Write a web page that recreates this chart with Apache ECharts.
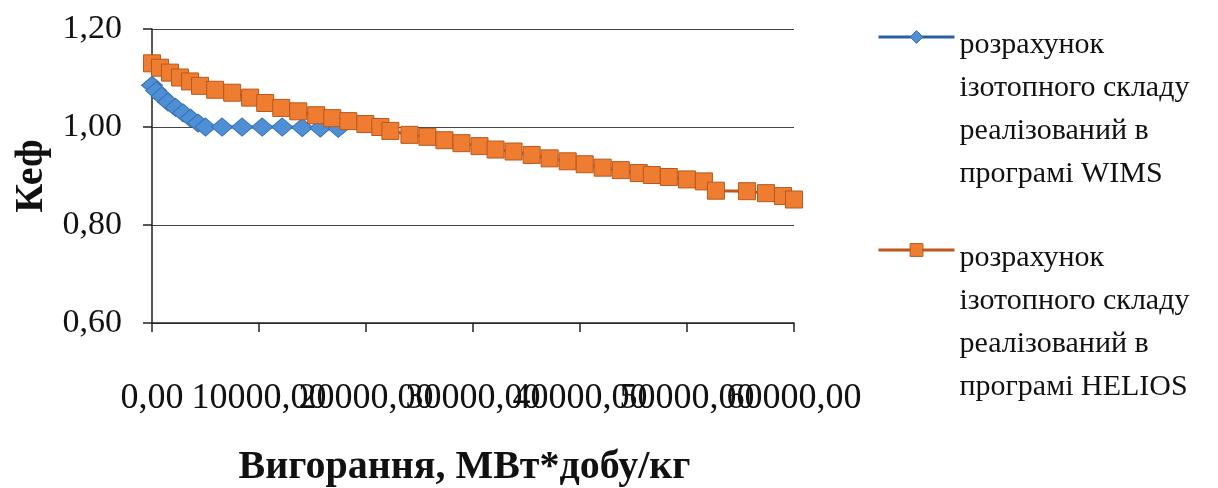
<!DOCTYPE html>
<html>
<head>
<meta charset="utf-8">
<script src="https://cdn.jsdelivr.net/npm/echarts@6/dist/echarts.min.js"></script>
<style>
html,body{margin:0;padding:0;background:#fff;}
#chart{width:1218px;height:488px;}
</style>
</head>
<body>
<div id="chart"></div>
<script>
// ---- data ----
const wimsName = 'розрахунок\nізотопного складу\nреалізований в\nпрограмі WIMS';
const heliosName = 'розрахунок\nізотопного складу\nреалізований в\nпрограмі HELIOS';

const wimsX = [0, 400, 900, 1500, 2200, 2900, 3600, 4300, 5000, 6550, 8420, 10300, 12170, 14040, 15730, 17410];
const wimsY = [1.085, 1.074, 1.063, 1.051, 1.040, 1.029, 1.018, 1.008, 1.000, 1.000, 1.000, 1.000, 1.000, 0.999, 0.998, 0.997];

const heliosX = [0, 750, 1680, 2620, 3560, 4490, 5900, 7490, 9170, 10580, 12080, 13670, 15350, 16850, 18350, 19940, 21340, 22280, 24060, 25740, 27330, 28920, 30610, 32110, 33790, 35480, 37160, 38850, 40440, 42120, 43810, 45490, 46710, 48300, 49990, 51580, 52700, 55600, 57380, 58970, 60000];
const heliosY = [1.130, 1.121, 1.111, 1.101, 1.093, 1.084, 1.076, 1.070, 1.060, 1.049, 1.039, 1.032, 1.024, 1.018, 1.012, 1.006, 1.000, 0.992, 0.984, 0.980, 0.973, 0.967, 0.961, 0.954, 0.950, 0.943, 0.936, 0.930, 0.924, 0.917, 0.912, 0.906, 0.902, 0.898, 0.893, 0.889, 0.870, 0.869, 0.865, 0.859, 0.852];

const xMin = 0, xMax = 60000, xStep = 10000;
const yMin = 0.6, yMax = 1.2, yStep = 0.2;
const xTitle = 'Вигорання, МВт*добу/кг';
const yTitle = 'Кеф';

// ---- chart ----
const font = 'Liberation Serif, Times New Roman, serif';
const fmt = v => v.toFixed(2).replace('.', ',');
const zip = (xs, ys) => xs.map((x, i) => [x, ys[i]]);
const gridBox = {left: 152, right: 424, top: 29, bottom: 165, containLabel: false, outerBoundsMode: 'none'};

const blueLine = '#2c5f9e', blueFill = '#4f8fd6', blueBorder = '#3670b2';
const orangeLine = '#c0541b', orangeFill = '#ee7d31', orangeBorder = '#b9571c';

const legendCommon = {
  orient: 'vertical',
  left: 877,
  itemWidth: 76,
  itemHeight: 16,
  padding: 0,
  selectedMode: false,
  formatter: name => '{g|}\n\n\n\n' + name,
  textStyle: {fontFamily: font, fontSize: 30, color: '#111', lineHeight: 43,
    rich: {g: {fontSize: 10, lineHeight: 16}}}
};

const xAxisCommon = {
  type: 'value',
  min: xMin, max: xMax, interval: xStep,
  axisLabel: {fontFamily: font, fontSize: 36, color: '#111', margin: 58, hideOverlap: false},
  splitLine: {show: false}
};

const chart = echarts.init(document.getElementById('chart'), null, {renderer: 'canvas'});
chart.setOption({
  animation: false,
  backgroundColor: '#ffffff',
  grid: [Object.assign({}, gridBox), Object.assign({}, gridBox)],
  legend: [
    Object.assign({}, legendCommon, {top: 37 - 158.5, data: [{name: wimsName, lineStyle: {color: blueLine, width: 3}, itemStyle: {color: blueFill, borderColor: blueBorder, borderWidth: 1}}]}),
    Object.assign({}, legendCommon, {top: 250 - 158.5, data: [{name: heliosName, lineStyle: {color: orangeLine, width: 3}, itemStyle: {color: orangeFill, borderColor: orangeBorder, borderWidth: 1}}]})
  ],
  xAxis: [
    Object.assign({}, xAxisCommon, {
      gridIndex: 0,
      name: xTitle,
      nameLocation: 'middle',
      nameGap: 125,
      nameTextStyle: {fontFamily: font, fontSize: 40, fontWeight: 'bold', color: '#111', padding: [0, 17, 0, 0]},
      axisLine: {show: true, lineStyle: {color: '#222', width: 1.5}},
      axisTick: {show: true, length: 9, lineStyle: {color: '#222', width: 1.5}},
      axisLabel: Object.assign({}, xAxisCommon.axisLabel, {formatter: v => (v % 20000 === 0 ? fmt(v) : '')})
    }),
    Object.assign({}, xAxisCommon, {
      gridIndex: 1,
      axisLine: {show: false},
      axisTick: {show: false},
      axisLabel: Object.assign({}, xAxisCommon.axisLabel, {formatter: v => (v % 20000 !== 0 ? fmt(v) : '')})
    })
  ],
  yAxis: [
    {
      gridIndex: 0,
      type: 'value',
      min: yMin, max: yMax, interval: yStep,
      name: yTitle,
      nameLocation: 'middle',
      nameGap: 100,
      nameTextStyle: {fontFamily: font, fontSize: 40, fontWeight: 'bold', color: '#111'},
      axisLine: {show: true, lineStyle: {color: '#222', width: 1.5}},
      axisTick: {show: true, length: 9, lineStyle: {color: '#222', width: 1.5}},
      axisLabel: {formatter: fmt, fontFamily: font, fontSize: 34, color: '#111', margin: 30},
      splitLine: {show: true, lineStyle: {color: '#444', width: 1.2}}
    },
    {
      gridIndex: 1,
      type: 'value',
      min: yMin, max: yMax, interval: yStep,
      show: false
    }
  ],
  series: [
    {
      name: wimsName,
      type: 'line',
      xAxisIndex: 0, yAxisIndex: 0,
      data: zip(wimsX, wimsY),
      symbol: 'diamond',
      symbolSize: [21, 18],
      lineStyle: {color: blueLine, width: 3},
      itemStyle: {color: blueFill, borderColor: blueBorder, borderWidth: 1},
      z: 2
    },
    {
      name: heliosName,
      type: 'line',
      xAxisIndex: 0, yAxisIndex: 0,
      data: zip(heliosX, heliosY),
      symbol: 'rect',
      symbolSize: 17,
      lineStyle: {color: orangeLine, width: 3},
      itemStyle: {color: orangeFill, borderColor: orangeBorder, borderWidth: 1},
      z: 3
    }
  ]
});
</script>
</body>
</html>
